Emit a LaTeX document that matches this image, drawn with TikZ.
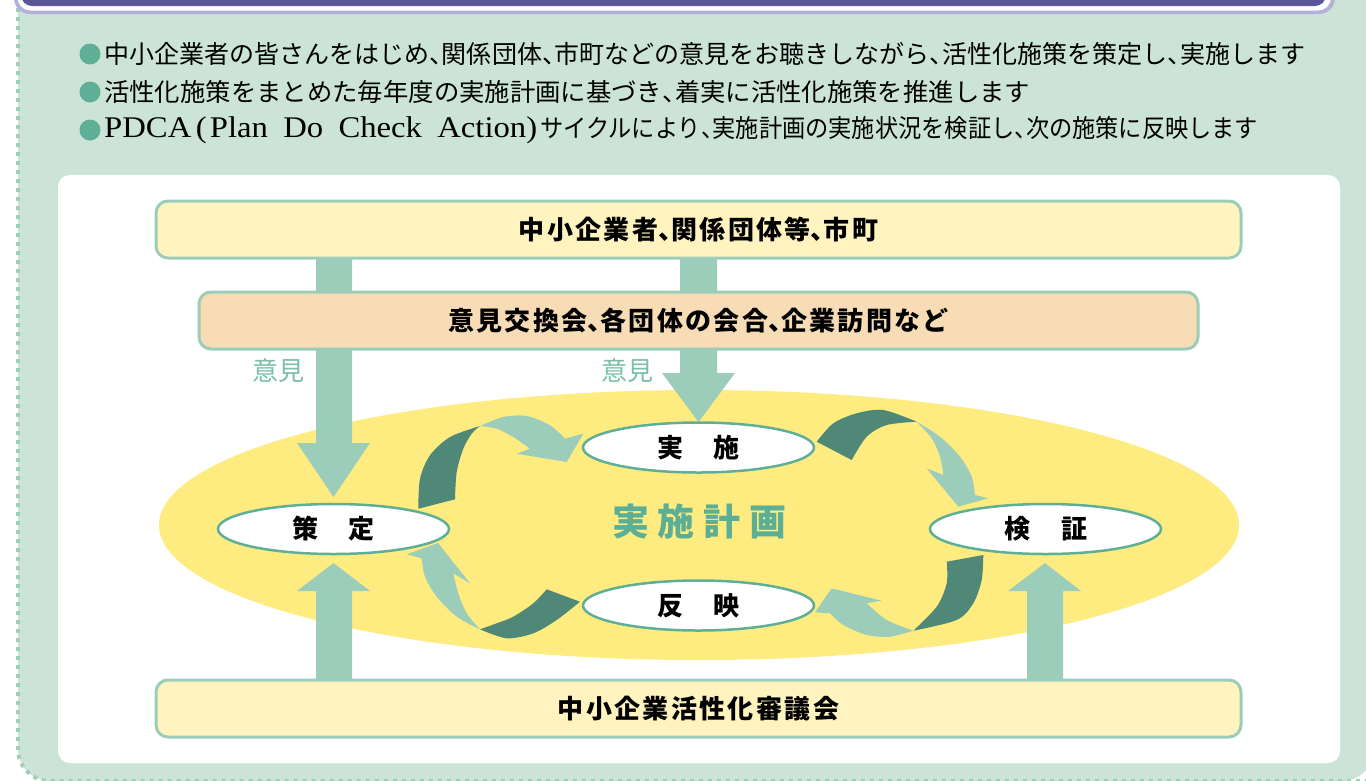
\documentclass[tikz,border=0pt]{standalone}
\usepackage{graphicx}
\usepackage{fontspec}
\usetikzlibrary{shapes.geometric}
\newfontfamily\jp{Noto Sans CJK JP}
\newfontfamily\jpls{Noto Sans CJK JP}[LetterSpace=9]
\newfontfamily\lserif{Liberation Serif}
\newcommand\hc{\makebox[13pt][l]{、}}
\newcommand\hcb{\makebox[12.5pt][l]{、}}
\definecolor{panelc}{HTML}{CCE4D8}
\definecolor{dotc}{HTML}{9FCFBC}
\definecolor{purp}{HTML}{5B5699}
\definecolor{lav}{HTML}{B6B0D9}
\definecolor{bulc}{HTML}{5FAF96}
\definecolor{boxy}{HTML}{FFF4C0}
\definecolor{boxp}{HTML}{F7DCB5}
\definecolor{boxline}{HTML}{9CCDB9}
\definecolor{bigy}{HTML}{FEEC80}
\definecolor{lightarr}{HTML}{9BCDBA}
\definecolor{darkarr}{HTML}{4F8877}
\definecolor{ellline}{HTML}{5FAF98}
\definecolor{ikenc}{HTML}{7CBFA6}
\definecolor{planc}{HTML}{5CAE95}
\tikzset{
  lbox/.style={draw=boxline, line width=3pt, rounded corners=12pt, inner sep=0pt,
    font=\jpls\bfseries\fontsize{26}{28}\selectfont},
  ellnode/.style={ellipse, draw=ellline, line width=2.5pt, fill=white,
    minimum width=231pt, minimum height=50pt, inner sep=0pt,
    font=\jp\bfseries\fontsize{26}{28}\selectfont},
  bline/.style={anchor=west, inner sep=0pt, font=\jp\fontsize{25}{28}\selectfont},
  iken/.style={text=ikenc, inner sep=0pt, font=\jp\fontsize{26}{28}\selectfont},
  lar/.style={fill=lightarr},
  dar/.style={fill=darkarr}
}
\begin{document}
\begin{tikzpicture}[x=1pt,y=-1pt]
\useasboundingbox (0,0) rectangle (1366,780);
% outer green panel
\fill[panelc, rounded corners=32pt] (18,-60) rectangle (1374,781);
\draw[dotc, line width=4pt, dash pattern=on 4pt off 5pt, rounded corners=32pt] (18,-10) -- (18,781) -- (1400,781);
% header
\fill[lav, rounded corners=16pt] (14,-40) rectangle (1335,14);
\fill[white, rounded corners=13pt] (17.5,-40) rectangle (1331,10.5);
\fill[purp, rounded corners=11pt] (21,-40) rectangle (1326,6);
% bullets
\foreach \yy in {54,92,130} \fill[bulc] (90,\yy) circle (10.5pt);
\node[bline] (t1) at (104,54) {\resizebox{1201pt}{\height}{中小企業者の皆さんをはじめ\hcb 関係団体\hcb 市町などの意見をお聴きしながら\hcb 活性化施策を策定し\hcb 実施します}};
\node[bline] (t2) at (104,92) {\resizebox{926pt}{\height}{活性化施策をまとめた毎年度の実施計画に基づき\hcb 着実に活性化施策を推進します}};
\node[bline] (t3) at (104,130) {\resizebox{433pt}{\height}{\lserif\fontsize{30}{32}\selectfont PDCA\hspace{4pt}(\hspace{3pt}Plan\hspace{14pt}Do\hspace{14pt}Check\hspace{14pt}Action)}\hspace{3pt}\resizebox{718pt}{\height}{サイクルにより\hcb 実施計画の実施状況を検証し\hcb 次の施策に反映します}};
% white inner panel
\fill[white, rounded corners=12pt] (58,175) rectangle (1340,763);
% big yellow ellipse
\fill[bigy] (699,525) ellipse [x radius=540, y radius=135];
% straight block arrows
\fill[lar] (316,250) -- (352,250) -- (352,443) -- (370,443) -- (333.5,497) -- (297,443) -- (316,443) -- cycle;
\fill[lar] (680,250) -- (717,250) -- (717,373) -- (735,373) -- (698.5,422) -- (662,373) -- (680,373) -- cycle;
\fill[lar] (316,690) -- (352,690) -- (352,591) -- (370,591) -- (333.5,563) -- (297,591) -- (316,591) -- cycle;
\fill[lar] (1027,690) -- (1063,690) -- (1063,591) -- (1081,591) -- (1045,563) -- (1008,591) -- (1027,591) -- cycle;
% boxes
\node[lbox, fill=boxy, minimum width=1085pt, minimum height=57pt] (top) at (698.5,229.5) {中小企業者\hc 関係団体等\hc 市町};
\node[lbox, fill=boxp, minimum width=999pt, minimum height=57pt] (mid) at (698.5,320.5) {意見交換会\hc 各団体の会合\hc 企業訪問など};
\node[lbox, fill=boxy, minimum width=1085pt, minimum height=57pt] (bot) at (698.5,708.5) {中小企業活性化審議会};
% labels
\node[iken] (iken1) at (278,371) {意見};
\node[iken] (iken2) at (627,371) {意見};
% curved arrows
% top-left
\fill[dar] plot[smooth] coordinates {(418.3,508.7) (420,478.7) (430,455.3) (450,437) (480,426)} -- plot[smooth] coordinates {(480,426) (471.7,433.7) (463.3,448.7) (456.7,472) (455,499.3)} -- cycle;
\fill[lar] plot[smooth] coordinates {(480,426) (503,417) (526.7,416) (550,425.3) (565,438.7)} -- (583.3,433.7) -- (566.7,462) -- (516.7,453.7) -- plot[smooth] coordinates {(530,448.7) (513.3,437) (496.7,428.7) (480,426)} -- cycle;
% top-right
\fill[dar] plot[smooth] coordinates {(816.7,441.7) (833.3,423.3) (856.7,413.3) (883.3,410) (916.7,421.7)} -- plot[smooth] coordinates {(916.7,421.7) (886.7,425) (866.7,436.7) (851.7,460)} -- cycle;
\fill[lar] plot[smooth] coordinates {(916.7,421.7) (940,436.7) (960,456.7) (971.7,476.7) (975,495)} -- (988.3,498.3) -- (958.3,506.7) -- (926.7,468.3) -- plot[smooth] coordinates {(943.3,475) (940,456.7) (931.7,438.3) (916.7,421.7)} -- cycle;
% bottom-right
\fill[dar] plot[smooth] coordinates {(983.3,555) (981.7,580) (973.3,603.3) (956.7,620) (913.3,630.7)} -- plot[smooth] coordinates {(913.3,630.7) (936.7,606.7) (946.7,583.3) (946.7,561.7)} -- cycle;
\fill[lar] plot[smooth] coordinates {(913.3,630.7) (890,636.7) (866.7,635) (843.3,625) (830,613.3)} -- (815,612.3) -- (831.7,588.3) -- (881.7,600.7) -- plot[smooth] coordinates {(866.7,603.3) (886.7,620) (913.3,630.7)} -- cycle;
% bottom-left
\fill[dar] plot[smooth] coordinates {(580,601.7) (556.7,620) (533.3,633.3) (506.7,638.3) (480,629.3)} -- plot[smooth] coordinates {(480,629.3) (496.7,623.3) (513.3,616.7) (533.3,603.3) (546.7,589.3)} -- cycle;
\fill[lar] plot[smooth] coordinates {(480,629.3) (456.7,616.7) (436.7,596.7) (425,576.7) (421.7,558.3)} -- (406.7,554.3) -- (438,543) -- (470,583.3) -- plot[smooth] coordinates {(453.3,573.3) (458.3,593.3) (466.7,613.3) (480,629.3)} -- cycle;
% ellipse nodes
\node[ellnode] (sakutei) at (333.5,529) {策\hspace{31pt}定};
\node[ellnode] (jisshi) at (698.5,447.5) {実\hspace{31pt}施};
\node[ellnode] (kensho) at (1045.5,529) {検\hspace{31pt}証};
\node[ellnode] (hanei) at (698.5,605.5) {反\hspace{31pt}映};
% centre title
\node[text=planc, inner sep=0pt, font=\jp\bfseries\fontsize{37}{40}\selectfont] (plan) at (699.5,521) {実\hspace{9pt}施\hspace{9pt}計\hspace{9pt}画};
\end{tikzpicture}
\end{document}
